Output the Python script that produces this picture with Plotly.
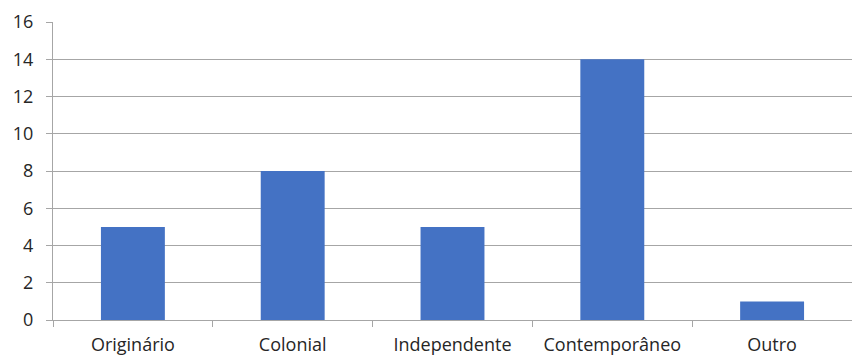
import plotly.graph_objects as go

categories = ["Originário", "Colonial", "Independente", "Contemporâneo", "Outro"]
values = [5, 8, 5, 14, 1]
y_ticks = [0, 2, 4, 6, 8, 10, 12, 14, 16]

fig = go.Figure(
    go.Bar(
        x=categories,
        y=values,
        marker=dict(color="#4472C4", line=dict(width=0)),
        width=0.4,
    )
)

label_font = dict(family="'Open Sans', sans-serif", size=18, color="#262626")

fig.update_layout(
    width=852,
    height=358,
    margin=dict(l=53, r=0, t=22, b=38),
    paper_bgcolor="white",
    plot_bgcolor="white",
    showlegend=False,
    xaxis=dict(
        showline=True,
        linecolor="#a6a6a6",
        linewidth=1,
        ticks="outside",
        tickson="boundaries",
        ticklen=6,
        tickcolor="#a6a6a6",
        showgrid=False,
        ticklabelstandoff=8,
        tickfont=label_font,
    ),
    yaxis=dict(
        range=[0, 16],
        tickvals=y_ticks,
        showline=True,
        linecolor="#a6a6a6",
        linewidth=1,
        ticks="outside",
        ticklen=6,
        tickcolor="#a6a6a6",
        showgrid=True,
        gridcolor="#a6a6a6",
        gridwidth=1,
        zeroline=False,
        ticklabelstandoff=9,
        tickfont=label_font,
    ),
)

fig.write_html("out.html")
